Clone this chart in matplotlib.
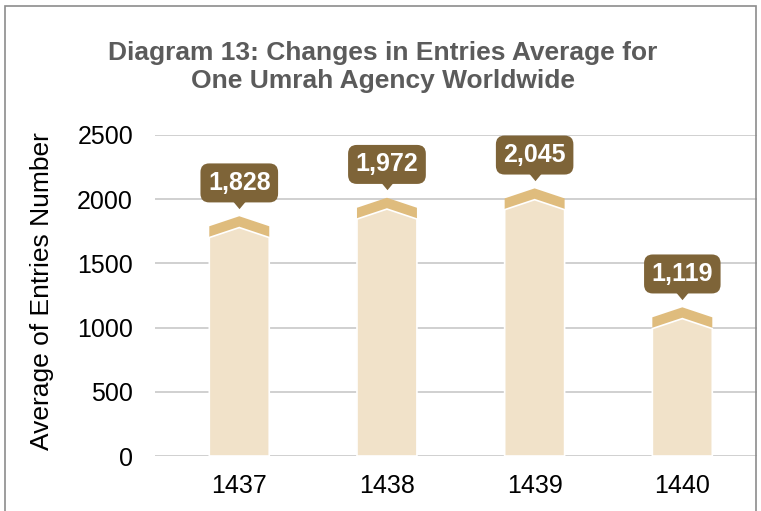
import matplotlib.pyplot as plt
from matplotlib.patches import Polygon, Rectangle
from matplotlib.transforms import offset_copy

plt.rcParams['font.family'] = ['Liberation Sans', 'DejaVu Sans']

# data
years = ['1437', '1438', '1439', '1440']
entries = [1828, 1972, 2045, 1119]
labels = ['1,828', '1,972', '2,045', '1,119']
yticks = [0, 500, 1000, 1500, 2000, 2500]

fill_light = '#F1E2C9'
fill_cap = '#DFBC7D'
box_col = '#7E6438'

fig = plt.figure(figsize=(7.61, 5.11), dpi=100)
ax = fig.add_axes([0.204, 0.1076, 0.791, 0.6283])

half = 0.203   # half bar width
peak = 78      # height of the roof
cap = 88       # thickness of the dark cap band

for i, v in enumerate(entries):
    lo, hi = v - peak / 2, v + peak / 2
    outer = [(i - half, 0), (i - half, lo), (i, hi), (i + half, lo), (i + half, 0)]
    ax.add_patch(Polygon(outer, closed=True, fc=fill_cap, ec='none', zorder=2))
    inner = [(i - half, 0), (i - half, lo - cap), (i, hi - cap), (i + half, lo - cap), (i + half, 0)]
    ax.add_patch(Polygon(inner, closed=True, fc=fill_light, ec='white', lw=1.2, zorder=3))

    # label box with little pointer
    ax.text(i, hi, labels[i], ha='center', va='center', color='white', fontsize=18,
            fontweight='bold', zorder=6, clip_on=False,
            transform=offset_copy(ax.transData, fig=fig, x=0, y=24, units='points'),
            bbox=dict(boxstyle='round,pad=0.3,rounding_size=0.35', fc=box_col, ec='none'))
    ax.plot(i, hi, marker=[(-1, 0.6), (1, 0.6), (0, -0.6)], ms=16, color=box_col, mec='none',
            zorder=5, clip_on=False,
            transform=offset_copy(ax.transData, fig=fig, x=0, y=10.5, units='points'))

ax.set_xlim(-0.569, 3.507)
ax.set_ylim(0, 2500)
ax.set_yticks(yticks)
ax.set_xticks(range(len(years)))
ax.set_xticklabels(years)
ax.grid(axis='y', color='#C8C8C8', lw=1.2, zorder=0)
ax.set_axisbelow(True)
for s in ax.spines.values():
    s.set_visible(False)
ax.tick_params(length=0, labelsize=18, colors='black')
ax.tick_params(axis='y', pad=16)
ax.tick_params(axis='x', pad=13)

ax.set_ylabel('Average of Entries Number', fontsize=19)
ax.yaxis.set_label_coords(-0.168, 0.515)

fig.text(0.503, 0.869, 'Diagram 13: Changes in Entries Average for\nOne Umrah Agency Worldwide',
         ha='center', va='center', fontsize=19, fontweight='bold', color='#5B5B5B',
         linespacing=1.2)

# frame round the figure (bottom edge falls outside)
fig.patches.append(Rectangle((0.006, -0.2), 0.988, 1.188, transform=fig.transFigure,
                             fill=False, ec='#8C8C8C', lw=1.2))

fig.savefig('out.png', dpi=100)
